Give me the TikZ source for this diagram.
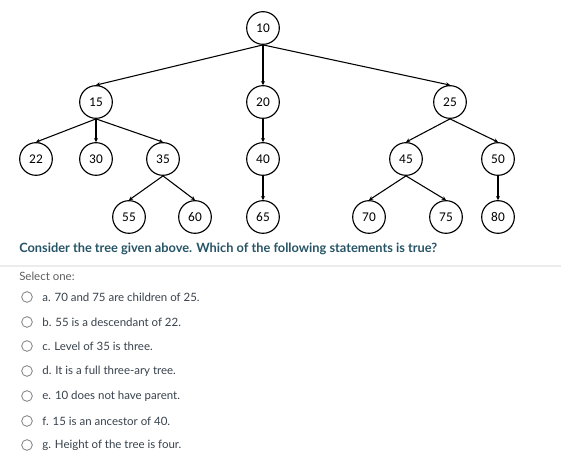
\documentclass[tikz,border=0pt]{standalone}
\usepackage{fontspec}
\setmainfont{Lato}
\newfontfamily\treefont{Carlito}
\usepackage{xcolor}
\usepackage{tikz}
\usetikzlibrary{positioning,arrows.meta}
\definecolor{qBlue}{RGB}{38, 84, 102}
\definecolor{optText}{RGB}{55, 65, 75}
\definecolor{hintGray}{RGB}{95, 95, 95}
\definecolor{ruleGray}{RGB}{236, 236, 236}
\definecolor{radioGray}{RGB}{125, 125, 125}

\tikzset{
  treenode/.style={draw, circle, line width=0.85pt, minimum size=24.5pt, inner sep=0pt,
    font=\treefont\fontsize{10}{10}\selectfont},
  treeedge/.style={line width=0.8pt, -{Stealth[length=3pt,width=3pt]}},
  radio/.style={draw=radioGray, circle, line width=0.6pt, minimum size=8pt, inner sep=0pt},
  option/.style={anchor=west, text=optText, inner sep=0pt, font=\fontsize{8.6}{10}\selectfont}
}

\begin{document}
\begin{tikzpicture}[x=0.75pt,y=-0.75pt]
  \useasboundingbox (0,0) rectangle (561,470);

  % the tree
  \node[treenode] (n10) at (263,28) {10};
  \node[treenode] (n15) at (96,102) {15};
  \node[treenode] (n20) at (263,102) {20};
  \node[treenode] (n25) at (450,102) {25};
  \node[treenode] (n22) at (36,159) {22};
  \node[treenode] (n30) at (96,159) {30};
  \node[treenode] (n35) at (163,159) {35};
  \node[treenode] (n40) at (263,159) {40};
  \node[treenode] (n45) at (406,159) {45};
  \node[treenode] (n50) at (498,159) {50};
  \node[treenode] (n55) at (129,217) {55};
  \node[treenode] (n60) at (195,217) {60};
  \node[treenode] (n65) at (263,217) {65};
  \node[treenode] (n70) at (369,217) {70};
  \node[treenode] (n75) at (446,217) {75};
  \node[treenode] (n80) at (498,217) {80};

  \foreach \from/\to in {n10/n15,n10/n20,n10/n25,n15/n22,n15/n30,n15/n35,n20/n40,
      n25/n45,n25/n50,n35/n55,n35/n60,n40/n65,n45/n70,n45/n75,n50/n80}
    \draw[treeedge] (\from.south) -- (\to.north);

  % question
  \node[anchor=west, inner sep=0pt, text=qBlue, font=\bfseries\fontsize{9.6}{11}\selectfont]
    (question) at (19,249) {Consider the tree given above. Which of the following statements is true?};
  \coordinate (ruleL) at (0,266);
  \coordinate (ruleR) at (561,266);
  \draw[ruleGray, line width=0.8pt] (ruleL) -- (ruleR);
  \node[anchor=west, inner sep=0pt, text=hintGray, font=\fontsize{8.6}{10}\selectfont]
    (selectone) at (19,276) {Select one:};

  % answers
  \foreach \y/\txt [count=\i] in {297/{a. 70 and 75 are children of 25.},
      322/{b. 55 is a descendant of 22.},
      346/{c. Level of 35 is three.},
      371/{d. It is a full three-ary tree.},
      396/{e. 10 does not have parent.},
      421/{f. 15 is an ancestor of 40.},
      445/{g. Height of the tree is four.}} {
    \node[radio] (radio\i) at (27,\y) {};
    \node[option, right=7pt of radio\i] (answer\i) {\txt};
  }
\end{tikzpicture}
\end{document}
